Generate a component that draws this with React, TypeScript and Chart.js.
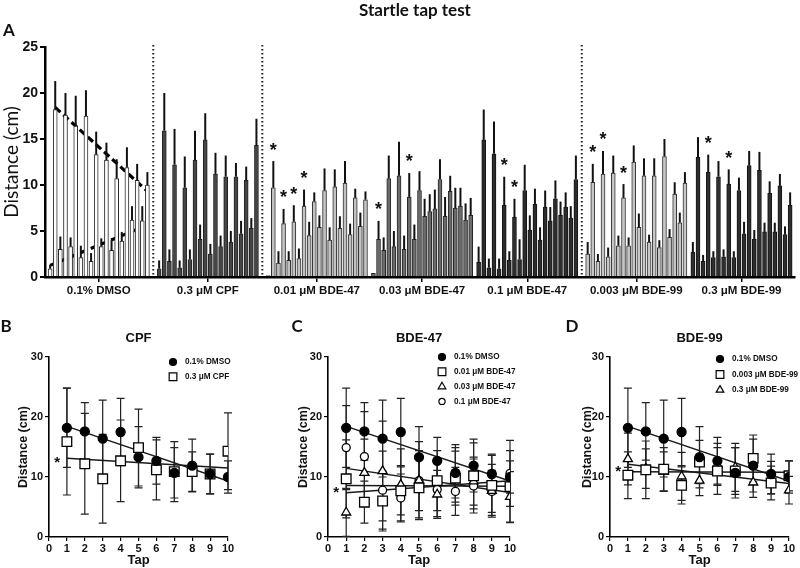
import React, { useEffect, useRef } from 'react';
import { Chart, registerables } from 'chart.js';

Chart.register(...registerables);

// ---------------- DATA ----------------
const groupNames = ['0.1% DMSO', '0.3 μM CPF', '0.01 μM BDE-47', '0.03 μM BDE-47', '0.1 μM BDE-47', '0.003 μM BDE-99', '0.3 μM BDE-99'];
const taps = [1, 2, 3, 4, 5, 6, 7, 8, 9, 10];
const xTicksB = [0, 1, 2, 3, 4, 5, 6, 7, 8, 9, 10];
const yTicksA = [0, 5, 10, 15, 20, 25];
const yTicksB = [0, 10, 20, 30];

// mean tap response distance (cm): tall bars in A, points in B–D
const dmsoMean = [18.2, 17.6, 16.4, 17.5, 13.3, 12.7, 10.7, 11.9, 10.5, 10.0];
const cpfMean = [15.9, 12.2, 9.7, 12.7, 14.9, 11.2, 10.9, 10.9, 10.5, 14.3];
const bde47LowMean = [9.7, 5.8, 6.0, 7.7, 8.2, 9.4, 9.8, 10.2, 8.6, 8.4];
const bde47MidMean = [4.1, 10.7, 11.0, 8.7, 9.4, 7.1, 10.6, 9.3, 7.7, 6.7];
const bde47HighMean = [14.9, 13.4, 7.8, 6.5, 9.4, 7.9, 7.6, 8.5, 7.6, 10.6];
const bde99LowMean = [10.3, 11.2, 11.3, 8.6, 12.5, 11.0, 11.0, 13.1, 9.0, 10.2];
const bde99HighMean = [13.0, 11.4, 10.9, 10.1, 9.4, 12.1, 11.6, 9.1, 9.9, 7.8];

// upper error (SEM) of the tall bars in A
const dmsoSem = [3.1, 2.4, 3.3, 2.8, 2.5, 1.9, 2.1, 2.2, 1.8, 1.4];
const cpfSem = [4.1, 3.9, 3.4, 3.2, 2.9, 2.3, 2.3, 1.5, 1.5, 2.9];
const bde47LowSem = [2.9, 1.6, 1.8, 1.8, 1.0, 2.4, 1.9, 2.4, 1.0, 0.9];
const bde47MidSem = [2.0, 2.5, 3.7, 2.6, 2.1, 1.9, 2.2, 1.7, 2.0, 1.9];
const bde47HighSem = [3.3, 3.5, 3.1, 2.0, 2.8, 1.7, 1.8, 2.0, 1.6, 2.6];
const bde99LowSem = [2.0, 2.5, 1.9, 1.5, 1.8, 1.9, 1.9, 1.9, 1.3, 1.2];
const bde99HighSem = [2.2, 1.9, 1.7, 1.6, 1.4, 1.6, 2.0, 1.3, 1.3, 1.4];

// short bars in A (baseline distance before each tap) and their SEM
const dmsoBase = [0.9, 3.0, 3.3, 2.1, 1.7, 3.3, 2.9, 3.9, 6.2, 6.1];
const cpfBase = [0.9, 1.7, 1.0, 1.9, 4.1, 2.5, 3.3, 3.8, 4.7, 5.3];
const bde47LowBase = [0.15, 1.5, 1.8, 2.0, 4.5, 5.4, 4.0, 5.3, 4.6, 5.5];
const bde47MidBase = [0.4, 2.9, 3.3, 3.0, 4.1, 6.6, 7.4, 6.6, 7.5, 6.2];
const bde47HighBase = [1.6, 1.0, 0.9, 1.8, 1.9, 5.1, 4.0, 6.1, 6.7, 6.4];
const bde99LowBase = [2.5, 1.7, 2.2, 3.4, 3.4, 5.4, 3.8, 3.2, 4.3, 5.9];
const bde99HighBase = [2.7, 1.7, 2.1, 2.2, 2.1, 4.7, 4.1, 4.9, 4.9, 4.6];

const dmsoBaseSem = [0.4, 1.4, 1.0, 1.3, 0.9, 0.9, 1.1, 1.0, 1.5, 1.6];
const cpfBaseSem = [0.9, 1.3, 0.8, 1.1, 1.6, 1.1, 1.2, 1.2, 1.4, 1.1];
const bde47LowBaseSem = [0, 1.3, 1.0, 1.1, 1.5, 1.3, 1.4, 1.3, 1.2, 1.5];
const bde47MidBaseSem = [0, 1.4, 1.7, 1.5, 1.6, 1.9, 2.1, 2.1, 2.2, 1.8];
const bde47HighBaseSem = [1.7, 1.0, 1.1, 1.0, 2.2, 1.6, 1.4, 1.5, 1.5, 1.3];
const bde99LowBaseSem = [1.3, 0.8, 1.0, 1.1, 0.9, 1.5, 0.8, 0.8, 0.9, 1.1];
const bde99HighBaseSem = [1.1, 0.7, 0.7, 0.8, 0.7, 1.3, 1.0, 1.0, 1.0, 0.9];

// SD used in panels B–D
const dmsoSd = [6.6, 4.8, 6.4, 5.6, 5.1, 3.9, 4.2, 4.4, 3.3, 2.7];
const cpfSd = [8.9, 8.4, 7.4, 6.8, 6.4, 5.0, 5.0, 3.3, 3.3, 6.4];
const bde47LowSd = [6.5, 3.5, 5.0, 4.0, 5.0, 5.0, 4.5, 5.5, 5.0, 6.0];
const bde47MidSd = [4.0, 5.6, 8.3, 6.0, 6.5, 4.0, 4.8, 4.0, 4.4, 4.2];
const bde47HighSd = [7.0, 7.5, 6.5, 4.0, 5.0, 4.5, 4.0, 4.5, 3.5, 5.5];
const bde99LowSd = [3.9, 4.8, 3.6, 3.1, 3.6, 3.9, 3.9, 3.9, 2.8, 2.5];
const bde99HighSd = [4.3, 3.3, 3.3, 4.0, 2.5, 3.5, 4.0, 2.5, 2.7, 2.3];

// significance marks in A (taps, 1-based, per group)
const starredTapsA = [[], [], [1, 2, 3, 4], [1, 4], [3, 4], [1, 2, 4], [2, 4]];
// significance marks in B–D (annotation anchor in data units)
const cpfStar = { x: 0.45, y: 13.2 };
const bde47Star = { x: 0.45, y: 8.1 };
const bde99Star = { x: 0.45, y: 11.7 };

// ---------------- STYLE / LAYOUT ----------------
const SANS = '"Liberation Sans", Arial, sans-serif';
const TITLE_FONT = 'Lato, "Open Sans", sans-serif';

const groupsA = [
  { high: dmsoMean, highErr: dmsoSem, low: dmsoBase, lowErr: dmsoBaseSem, fill: '#ffffff', border: '#2a2a2a' },
  { high: cpfMean, highErr: cpfSem, low: cpfBase, lowErr: cpfBaseSem, fill: '#464646', border: '#222222' },
  { high: bde47LowMean, highErr: bde47LowSem, low: bde47LowBase, lowErr: bde47LowBaseSem, fill: '#c2c2c2', border: '#333333' },
  { high: bde47MidMean, highErr: bde47MidSem, low: bde47MidBase, lowErr: bde47MidBaseSem, fill: '#6c6c6c', border: '#262626' },
  { high: bde47HighMean, highErr: bde47HighSem, low: bde47HighBase, lowErr: bde47HighBaseSem, fill: '#2c2c2c', border: '#151515' },
  { high: bde99LowMean, highErr: bde99LowSem, low: bde99LowBase, lowErr: bde99LowBaseSem, fill: '#c6c6c6', border: '#333333' },
  { high: bde99HighMean, highErr: bde99HighSem, low: bde99HighBase, lowErr: bde99HighBaseSem, fill: '#2e2e2e', border: '#151515' },
];

const dividerAfter = [0, 1, 4];
const NORMAL_GAP = 1.55;
const DIVIDER_GAP = 2.3;
const groupStart: number[] = [];
groupNames.forEach((_, g) => {
  if (g === 0) groupStart.push(0);
  else groupStart.push(groupStart[g - 1] + 19 + (dividerAfter.includes(g - 1) ? DIVIDER_GAP : NORMAL_GAP));
});

function linFit(ys: number[]) {
  const n = ys.length;
  const mx = taps.reduce((a, b) => a + b, 0) / n;
  const my = ys.reduce((a, b) => a + b, 0) / n;
  let sxy = 0, sxx = 0;
  taps.forEach((t, i) => { sxy += (t - mx) * (ys[i] - my); sxx += (t - mx) * (t - mx); });
  const b = sxy / sxx;
  return (t: number) => my + b * (t - mx);
}

function drawMarker(ctx: CanvasRenderingContext2D, style: string, x: number, y: number, r: number, fill: string) {
  ctx.beginPath();
  if (style === 'circle') ctx.arc(x, y, r, 0, Math.PI * 2);
  else if (style === 'rect') { const s = r * Math.SQRT1_2; ctx.rect(x - s, y - s, 2 * s, 2 * s); }
  else {
    ctx.moveTo(x, y - r);
    ctx.lineTo(x + r * Math.sin((2 * Math.PI) / 3), y - r * Math.cos((2 * Math.PI) / 3));
    ctx.lineTo(x + r * Math.sin((4 * Math.PI) / 3), y - r * Math.cos((4 * Math.PI) / 3));
    ctx.closePath();
  }
  ctx.fillStyle = fill;
  ctx.fill();
  ctx.lineWidth = 1.2;
  ctx.strokeStyle = '#000';
  ctx.stroke();
}

function drawStar(ctx: CanvasRenderingContext2D, x: number, yCenter: number, size: number) {
  ctx.font = `bold ${size}px ${SANS}`;
  ctx.textAlign = 'center';
  ctx.textBaseline = 'alphabetic';
  ctx.fillStyle = '#111';
  ctx.fillText('*', x, yCenter + size * 0.58);
}

// ---------------- PANEL A ----------------
function makePanelA(canvas: HTMLCanvasElement) {
  const datasets: any[] = groupsA.map((gr, g) => ({
    type: 'bar',
    data: gr.high.flatMap((h, i) => [
      { x: groupStart[g] + 2 * i, y: gr.low[i] },
      { x: groupStart[g] + 2 * i + 1, y: h },
    ]),
    backgroundColor: gr.fill,
    borderColor: gr.border,
    borderWidth: 1,
    barThickness: 4,
    grouped: false,
  }));
  const fitHigh = linFit(dmsoMean);
  const fitLow = linFit(dmsoBase);
  datasets.push({
    type: 'line',
    data: [{ x: groupStart[0] + 1, y: fitHigh(taps[0]) }, { x: groupStart[0] + 19, y: fitHigh(taps[9]) }],
    borderColor: '#000', borderWidth: 3.2, borderDash: [7, 4], pointRadius: 0, fill: false,
  });
  datasets.push({
    type: 'line',
    data: [{ x: groupStart[0], y: fitLow(taps[0]) }, { x: groupStart[0] + 18, y: fitLow(taps[9]) }],
    borderColor: '#000', borderWidth: 3.2, borderDash: [7, 4], pointRadius: 0, fill: false,
  });

  const plugin = {
    id: 'panelAExtras',
    afterDatasetsDraw(chart: any) {
      const ctx = chart.ctx as CanvasRenderingContext2D;
      const ys = chart.scales.y;
      const xs = chart.scales.x;
      const area = chart.chartArea;
      ctx.save();
      groupsA.forEach((gr, g) => {
        const meta = chart.getDatasetMeta(g);
        meta.data.forEach((el: any, j: number) => {
          const i = Math.floor(j / 2);
          const hi = j % 2 === 1;
          const v = hi ? gr.high[i] : gr.low[i];
          const e = hi ? gr.highErr[i] : gr.lowErr[i];
          if (e <= 0) return;
          ctx.beginPath();
          ctx.moveTo(el.x, ys.getPixelForValue(v));
          ctx.lineTo(el.x, ys.getPixelForValue(v + e));
          ctx.lineWidth = 2;
          ctx.strokeStyle = '#111';
          ctx.stroke();
        });
        starredTapsA[g].forEach((t) => {
          const el = meta.data[(t - 1) * 2 + 1];
          const top = ys.getPixelForValue(gr.high[t - 1] + gr.highErr[t - 1]);
          drawStar(ctx, el.x, top - 16, 18);
        });
      });
      // dotted dividers
      ctx.setLineDash([1.6, 2.4]);
      ctx.lineWidth = 2;
      ctx.strokeStyle = '#222';
      dividerAfter.forEach((g) => {
        const v = (groupStart[g] + 19 + groupStart[g + 1]) / 2;
        const px = xs.getPixelForValue(v);
        ctx.beginPath();
        ctx.moveTo(px, area.top - 2);
        ctx.lineTo(px, area.bottom);
        ctx.stroke();
      });
      ctx.setLineDash([]);
      // title and panel letter
      ctx.fillStyle = '#111';
      ctx.textBaseline = 'middle';
      ctx.textAlign = 'center';
      ctx.font = `bold 17px ${TITLE_FONT}`;
      ctx.fillText('Startle tap test', 415, 11);
      ctx.textAlign = 'left';
      ctx.font = `bold 17px ${TITLE_FONT}`;
      ctx.fillText('A', 3, 31);
      ctx.restore();
    },
  };

  return new Chart(canvas, {
    type: 'bar',
    data: { datasets },
    options: {
      responsive: false,
      animation: false,
      events: [],
      layout: { padding: { top: 47, right: 5, left: 0, bottom: 0 } },
      plugins: { legend: { display: false }, tooltip: { enabled: false }, title: { display: false } },
      scales: {
        x: {
          type: 'linear',
          min: -1,
          max: 145.5,
          offset: false,
          afterBuildTicks: (scale: any) => {
            scale.ticks = groupNames.map((_, g) => ({ value: groupStart[g] + 9.5 }));
          },
          afterFit: (scale: any) => { scale.height = 33; },
          ticks: {
            autoSkip: false,
            maxRotation: 0,
            padding: 2,
            color: '#111',
            font: { family: SANS, size: 11.5, weight: 'bold' },
            callback: (_v: any, i: number) => groupNames[i],
          },
          grid: { drawOnChartArea: false, drawTicks: true, tickLength: 5, color: '#000', lineWidth: 1.5, offset: false },
          border: { display: true, color: '#000', width: 2.5 },
        },
        y: {
          type: 'linear',
          min: 0,
          max: 25,
          afterBuildTicks: (scale: any) => { scale.ticks = yTicksA.map((v) => ({ value: v })); },
          afterFit: (scale: any) => { scale.width = 45; },
          ticks: { autoSkip: false, padding: 2, color: '#111', font: { family: SANS, size: 14, weight: 'bold' } },
          grid: { drawOnChartArea: false, drawTicks: true, tickLength: 5, color: '#000', lineWidth: 2 },
          border: { display: true, color: '#000', width: 2.5 },
          title: { display: true, text: 'Distance (cm)', color: '#111', padding: 0, font: { family: TITLE_FONT, size: 19 } },
        },
      },
    } as any,
    plugins: [plugin],
  });
}

// ---------------- PANELS B–D ----------------
type Series = { label: string; mean: number[]; sd: number[]; style: string; r: number; fill: string };

const seriesDmso: Series = { label: '0.1% DMSO', mean: dmsoMean, sd: dmsoSd, style: 'circle', r: 4.5, fill: '#000' };
const panelB = {
  title: 'CPF', letter: 'B', letterX: 6, star: cpfStar, legendX: 173, legendY: 52, legendRow: 14.7,
  padLeft: 16, yWidth: 33, padRight: 37,
  series: [seriesDmso, { label: '0.3 μM CPF', mean: cpfMean, sd: cpfSd, style: 'rect', r: 6.8, fill: '#fff' }],
};
const panelC = {
  title: 'BDE-47', letter: 'C', letterX: 32, star: bde47Star, legendX: 177, legendY: 47, legendRow: 14.8,
  padLeft: 31, yWidth: 32, padRight: 20,
  series: [
    seriesDmso,
    { label: '0.01 μM BDE-47', mean: bde47LowMean, sd: bde47LowSd, style: 'rect', r: 6.8, fill: '#fff' },
    { label: '0.03 μM BDE-47', mean: bde47MidMean, sd: bde47MidSd, style: 'triangle', r: 5.2, fill: '#fff' },
    { label: '0.1 μM BDE-47', mean: bde47HighMean, sd: bde47HighSd, style: 'circle', r: 4, fill: '#fff' },
  ],
};
const panelD = {
  title: 'BDE-99', letter: 'D', letterX: 42, star: bde99Star, legendX: 190, legendY: 49, legendRow: 15.5,
  padLeft: 50, yWidth: 30, padRight: 11,
  series: [
    seriesDmso,
    { label: '0.003 μM BDE-99', mean: bde99LowMean, sd: bde99LowSd, style: 'rect', r: 6.8, fill: '#fff' },
    { label: '0.3 μM BDE-99', mean: bde99HighMean, sd: bde99HighSd, style: 'triangle', r: 5.2, fill: '#fff' },
  ],
};

function makeTapPanel(canvas: HTMLCanvasElement, cfg: typeof panelC) {
  const datasets: any[] = cfg.series.map((s) => ({
    type: 'scatter',
    label: s.label,
    data: taps.map((t, i) => ({ x: t, y: s.mean[i] })),
    pointStyle: s.style,
    pointRadius: s.r,
    pointHoverRadius: s.r,
    backgroundColor: s.fill,
    borderColor: '#000',
    borderWidth: 1.3,
  }));
  cfg.series.forEach((s) => {
    const f = linFit(s.mean);
    datasets.push({
      type: 'line',
      data: [taps[0], taps[taps.length - 1]].map((t) => ({ x: t, y: f(t) })),
      borderColor: '#1a1a1a', borderWidth: 1.5, pointRadius: 0, fill: false,
    });
  });

  const plugin = {
    id: 'tapExtras',
    beforeDatasetsDraw(chart: any) {
      const ctx = chart.ctx as CanvasRenderingContext2D;
      const ys = chart.scales.y;
      ctx.save();
      ctx.strokeStyle = '#222';
      ctx.lineWidth = 1.2;
      cfg.series.forEach((s, si) => {
        const meta = chart.getDatasetMeta(si);
        meta.data.forEach((el: any, i: number) => {
          const top = ys.getPixelForValue(s.mean[i] + s.sd[i]);
          const bot = ys.getPixelForValue(Math.max(0, s.mean[i] - s.sd[i]));
          ctx.beginPath();
          ctx.moveTo(el.x, top); ctx.lineTo(el.x, bot);
          ctx.moveTo(el.x - 4, top); ctx.lineTo(el.x + 4, top);
          ctx.moveTo(el.x - 4, bot); ctx.lineTo(el.x + 4, bot);
          ctx.stroke();
        });
      });
      ctx.restore();
    },
    afterDraw(chart: any) {
      const ctx = chart.ctx as CanvasRenderingContext2D;
      const area = chart.chartArea;
      const xs = chart.scales.x;
      const ys = chart.scales.y;
      ctx.save();
      ctx.fillStyle = '#111';
      ctx.textBaseline = 'middle';
      ctx.textAlign = 'center';
      ctx.font = `bold 13px ${SANS}`;
      ctx.fillText(cfg.title, (area.left + area.right) / 2, 28);
      ctx.font = `bold 17px ${TITLE_FONT}`;
      ctx.fillText(cfg.letter, cfg.letterX, 17);
      drawStar(ctx, xs.getPixelForValue(cfg.star.x), ys.getPixelForValue(cfg.star.y), 15);
      cfg.series.forEach((s, k) => {
        const y = cfg.legendY + k * cfg.legendRow;
        const r = s.style === 'rect' ? s.r * 0.8 : s.style === 'triangle' ? s.r * 0.85 : s.fill === '#000' ? 3.5 : 3.1;
        drawMarker(ctx, s.style, cfg.legendX, y, r, s.fill);
        ctx.fillStyle = '#111';
        ctx.textAlign = 'left';
        ctx.textBaseline = 'middle';
        ctx.font = `bold 8.2px ${SANS}`;
        ctx.fillText(s.label, cfg.legendX + 12, y);
      });
      ctx.restore();
    },
  };

  return new Chart(canvas, {
    type: 'scatter',
    data: { datasets },
    options: {
      responsive: false,
      animation: false,
      events: [],
      layout: { padding: { top: 47, right: cfg.padRight, left: cfg.padLeft, bottom: 0 } },
      plugins: { legend: { display: false }, tooltip: { enabled: false } },
      scales: {
        x: {
          type: 'linear', min: 0, max: 10,
          afterBuildTicks: (scale: any) => { scale.ticks = xTicksB.map((v) => ({ value: v })); },
          afterFit: (scale: any) => { scale.height = 31; },
          ticks: { autoSkip: false, maxRotation: 0, padding: 1, color: '#111', font: { family: SANS, size: 11, weight: 'bold' } },
          grid: { drawOnChartArea: false, drawTicks: true, tickLength: 4, color: '#000', lineWidth: 1.2 },
          border: { display: true, color: '#000', width: 1.6 },
          title: { display: true, text: 'Tap', color: '#111', padding: 0, font: { family: SANS, size: 13, weight: 'bold' } },
        },
        y: {
          type: 'linear', min: 0, max: 30,
          afterBuildTicks: (scale: any) => { scale.ticks = yTicksB.map((v) => ({ value: v })); },
          afterFit: (scale: any) => { scale.width = cfg.yWidth; },
          ticks: { autoSkip: false, padding: 2, color: '#111', font: { family: SANS, size: 11, weight: 'bold' } },
          grid: { drawOnChartArea: false, drawTicks: true, tickLength: 4, color: '#000', lineWidth: 1.2 },
          border: { display: true, color: '#000', width: 1.6 },
          title: { display: true, text: 'Distance (cm)', color: '#111', padding: 0, font: { family: SANS, size: 12.5, weight: 'bold' } },
        },
      },
    } as any,
    plugins: [plugin],
  });
}

// ---------------- COMPONENTS ----------------
function ChartBox({ left, top, width, height, make }: { left: number; top: number; width: number; height: number; make: (c: HTMLCanvasElement) => Chart }) {
  const ref = useRef<HTMLCanvasElement>(null);
  useEffect(() => {
    if (!ref.current) return;
    const chart = make(ref.current);
    return () => chart.destroy();
  }, []);
  return (
    <div style={{ position: 'absolute', left, top, width, height }}>
      <canvas ref={ref} width={width} height={height} style={{ width, height, display: 'block' }} />
    </div>
  );
}

export default function App() {
  return (
    <div style={{ position: 'absolute', left: 0, top: 0, width: 800, height: 568, background: '#fff', overflow: 'hidden' }}>
      <ChartBox left={0} top={0} width={800} height={310} make={makePanelA} />
      <ChartBox left={0} top={310} width={265} height={258} make={(c) => makeTapPanel(c, panelB as any)} />
      <ChartBox left={265} top={310} width={265} height={258} make={(c) => makeTapPanel(c, panelC)} />
      <ChartBox left={530} top={310} width={270} height={258} make={(c) => makeTapPanel(c, panelD as any)} />
    </div>
  );
}
